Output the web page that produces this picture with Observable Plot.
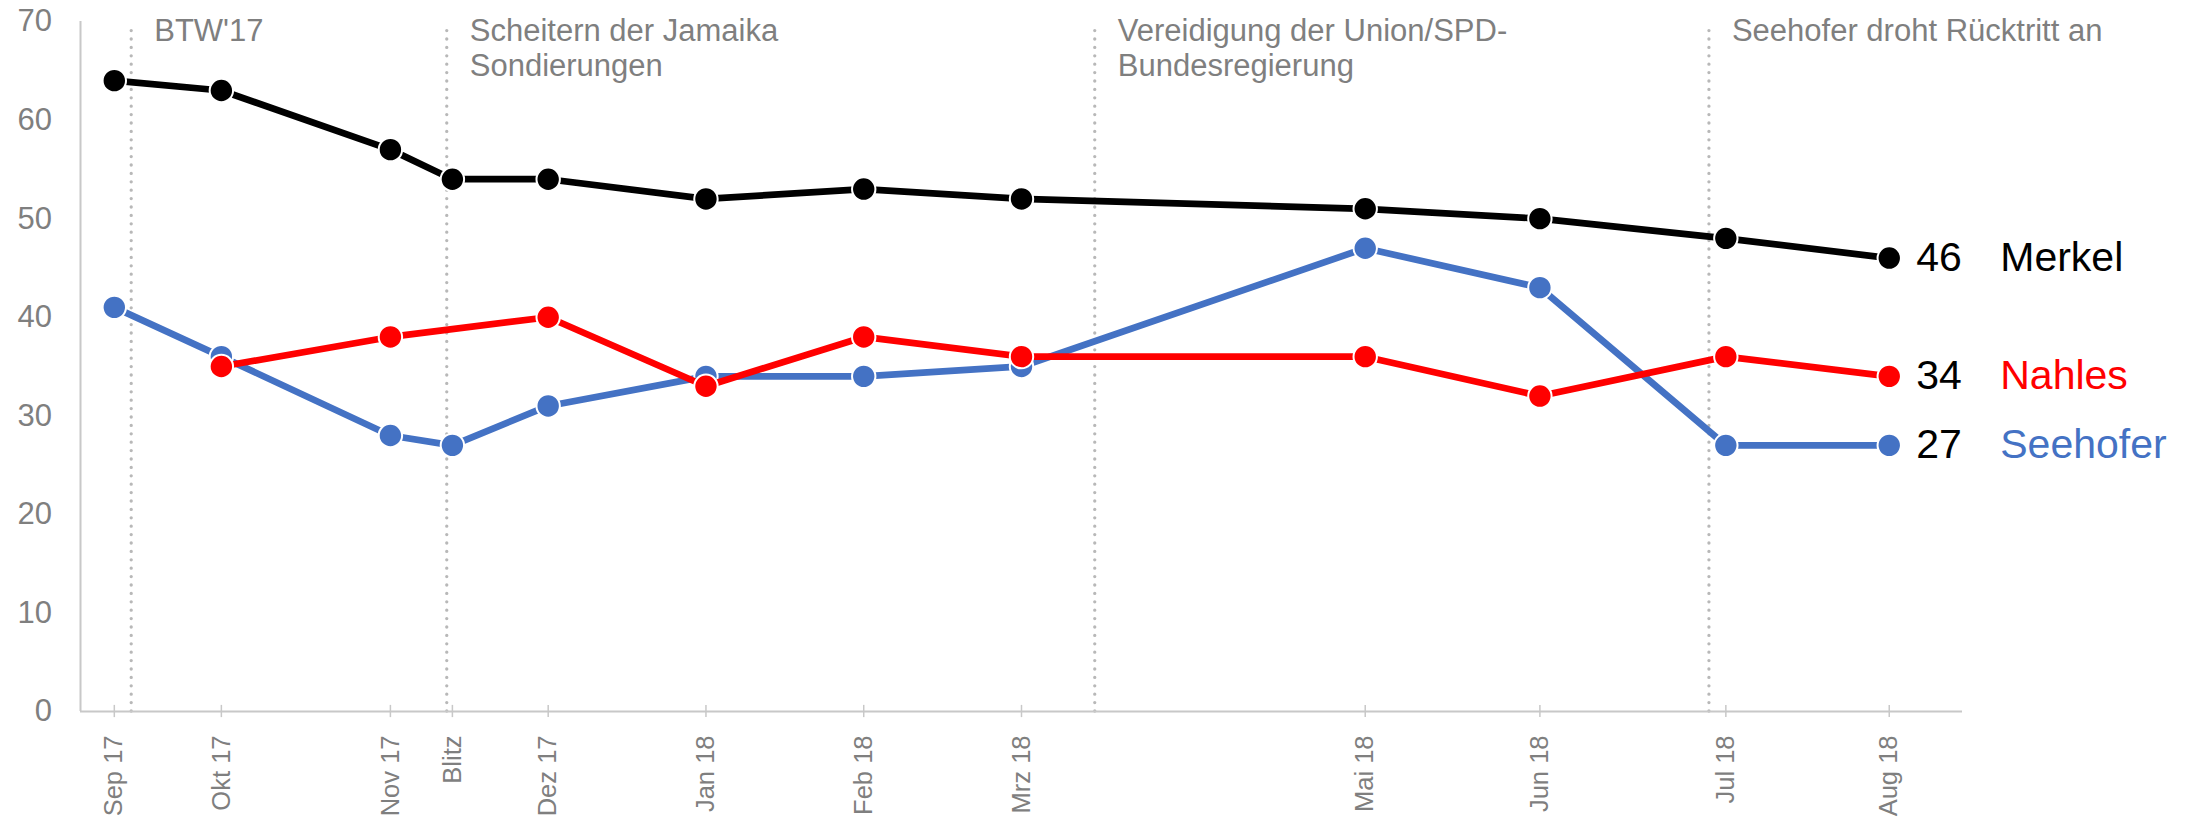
<!DOCTYPE html>
<html>
<head>
<meta charset="utf-8">
<script src="https://cdn.jsdelivr.net/npm/d3@7"></script>
<script src="https://cdn.jsdelivr.net/npm/@observablehq/plot@0.6"></script>
<style>
  html, body { margin: 0; padding: 0; background: #fff; overflow: hidden; }
  #chart svg { display: block; }
</style>
</head>
<body>
<div id="chart"></div>
<script>
// Poll dates (x positions) and their tick labels
const pollDates = ["2017-09-21","2017-10-10","2017-11-09","2017-11-20","2017-12-07","2018-01-04","2018-02-01","2018-03-01","2018-05-01","2018-06-01","2018-07-04","2018-08-02"];
const tickLabels = ["Sep 17","Okt 17","Nov 17","Blitz","Dez 17","Jan 18","Feb 18","Mrz 18","Mai 18","Jun 18","Jul 18","Aug 18"];

// Series values
const merkel   = [64, 63, 57, 54, 54, 52, 53, 52, 51, 50, 48, 46];
const nahles   = [null, 35, 38, null, 40, 33, 38, 36, 36, 32, 36, 34];
const seehofer = [41, 36, 28, 27, 31, 34, 34, 35, 47, 43, 27, 27];

const seriesNames  = ["Seehofer", "Nahles", "Merkel"];
const seriesColors = ["#4472c4", "#ff0000", "#000000"];

// Events
const eventDates  = ["2017-09-24", "2017-11-19", "2018-03-14", "2018-07-01"];
const eventLabels = ["BTW'17", "Scheitern der Jamaika\nSondierungen", "Vereidigung der Union/SPD-\nBundesregierung", "Seehofer droht Rücktritt an"];

const yTicks = [0, 10, 20, 30, 40, 50, 60, 70];
const xDomain = [new Date("2017-09-15"), new Date("2018-08-15")];

const toRows = (arr, name) => pollDates
  .map((d, i) => ({date: new Date(d), value: arr[i], name}))
  .filter(r => r.value != null);

const seriesData = [toRows(seehofer, "Seehofer"), toRows(nahles, "Nahles"), toRows(merkel, "Merkel")];
const lastRows = seriesData.map(s => s[s.length - 1]);

const events = eventDates.map((d, i) => ({date: new Date(d), label: eventLabels[i]}));
const labelMap = new Map(pollDates.map((d, i) => [+new Date(d), tickLabels[i]]));

const gray = "#7f7f7f";
const lineGray = "#c8c8c8";

const marks = [
  // event dotted lines
  Plot.ruleX(events, {x: "date", y1: 0, y2: 69.8, stroke: "#b8b8b8", strokeWidth: 3.3, strokeDasharray: "0 8.4", strokeLinecap: "round"}),
  Plot.text(events, {x: "date", y: 70, text: "label", textAnchor: "start", lineAnchor: "top", dx: 23, dy: -6, fontSize: 31, lineHeight: 1.14, fill: gray}),
  // axes lines
  Plot.ruleY([0], {stroke: lineGray, strokeWidth: 2}),
  Plot.ruleX([xDomain[0]], {y1: 0, y2: 70, stroke: lineGray, strokeWidth: 2}),
  Plot.ruleX(pollDates.map(d => new Date(d)), {x: d => d, y1: -0.62, y2: 0.62, stroke: lineGray, strokeWidth: 1.5}),
  Plot.axisY({ticks: yTicks, tickSize: 0, tickPadding: 28.5, fontSize: 31, color: gray, label: null}),
  Plot.axisX({ticks: pollDates.map(d => new Date(d)), tickFormat: d => labelMap.get(+d), tickRotate: -90, tickSize: 0, tickPadding: 24, fontSize: 25.5, color: gray, label: null})
];

seriesData.forEach((rows, i) => {
  marks.push(Plot.line(rows, {x: "date", y: "value", stroke: seriesColors[i], strokeWidth: 6.7, strokeLinejoin: "round"}));
  marks.push(Plot.dot(rows, {x: "date", y: "value", r: 11.7, fill: seriesColors[i], stroke: "white", strokeWidth: 2}));
});

// end labels
marks.push(Plot.text(lastRows, {x: "date", y: "value", text: d => String(d.value), textAnchor: "start", dx: 27, fontSize: 41, fill: "#000"}));
marks.push(Plot.text(lastRows, {x: "date", y: "value", text: "name", textAnchor: "start", dx: 111, fontSize: 41, fill: d => seriesColors[seriesNames.indexOf(d.name)]}));

const chart = Plot.plot({
  width: 2190,
  height: 819,
  marginLeft: 80,
  marginRight: 228,
  marginTop: 21,
  marginBottom: 108,
  x: {type: "time", domain: xDomain},
  y: {domain: [0, 70]},
  style: {fontFamily: "'Liberation Sans', Arial, sans-serif", background: "#fff"},
  marks
});
document.getElementById("chart").appendChild(chart);
</script>
</body>
</html>
